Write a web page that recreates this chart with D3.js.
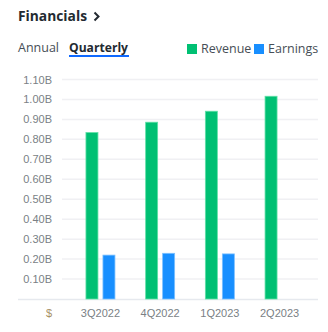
<!DOCTYPE html>
<html><head><meta charset="utf-8">
<script src="https://cdn.jsdelivr.net/npm/d3@7/dist/d3.min.js"></script>
<style>
html,body{margin:0;padding:0;background:#fff;}
svg{display:block;}
</style></head>
<body>
<svg id="chart" width="328" height="332"></svg>
<script>
const categories = ["3Q2022", "4Q2022", "1Q2023", "2Q2023"];
const revenue = [0.834, 0.886, 0.941, 1.016];
const earnings = [0.220, 0.229, 0.226, null];
const yTicks = [0.1, 0.2, 0.3, 0.4, 0.5, 0.6, 0.7, 0.8, 0.9, 1.0, 1.1];
const seriesNames = ["Revenue", "Earnings"];
const seriesColors = ["#00c073", "#188fff"];
const seriesStroke = ["#5fe0a6", "#7cc0ff"];

const svg = d3.select("#chart");
const font = "'Open Sans', sans-serif";

// Header
svg.append("text").attr("x", 18).attr("y", 21)
  .attr("font-family", font).attr("font-weight", 700).attr("font-size", 14.5)
  .attr("textLength", 69).attr("lengthAdjust", "spacingAndGlyphs")
  .attr("fill", "#232a31").text("Financials");
svg.append("path").attr("d", "M94.5,12.5 L98.5,16.5 L94.5,20.5")
  .attr("fill", "none").attr("stroke", "#232a31").attr("stroke-width", 2);

svg.append("text").attr("x", 18).attr("y", 52)
  .attr("font-family", font).attr("font-size", 12.5).attr("fill", "#464e56").text("Annual");
svg.append("text").attr("x", 69).attr("y", 52)
  .attr("font-family", font).attr("font-weight", 700).attr("font-size", 12.5)
  .attr("textLength", 59).attr("lengthAdjust", "spacingAndGlyphs")
  .attr("fill", "#232a31").text("Quarterly");
svg.append("rect").attr("x", 69).attr("y", 55).attr("width", 60).attr("height", 2).attr("fill", "#0f69ff");

// Legend
const legendX = [187, 254];
seriesNames.forEach((n, i) => {
  svg.append("rect").attr("x", legendX[i]).attr("y", 44).attr("width", 10).attr("height", 10).attr("fill", seriesColors[i]);
  svg.append("text").attr("x", legendX[i] + 14).attr("y", 53)
    .attr("font-family", font).attr("font-size", 12.5).attr("fill", "#464e56").text(n);
});

// Scales
const y = d3.scaleLinear().domain([0, 1.1]).range([299, 79.5]);
const x = d3.scaleBand().domain(categories).range([70.6, 309.4]).padding(0);

// Gridlines
svg.append("g").selectAll("line").data(yTicks).join("line")
  .attr("x1", 62).attr("x2", 318)
  .attr("y1", d => y(d)).attr("y2", d => y(d))
  .attr("stroke", "#f0f0f3").attr("stroke-width", 1.5);

// Y axis labels
const yAxis = d3.axisLeft(y).tickValues(yTicks).tickSize(0).tickPadding(0)
  .tickFormat(d => d3.format(".2f")(d) + "B");
const ya = svg.append("g").attr("transform", "translate(52,0)").call(yAxis);
ya.select(".domain").remove();
ya.selectAll("text").attr("font-family", "'Liberation Sans', Arial, sans-serif").attr("font-size", 11).attr("fill", "#7a7f85");

// Baseline
svg.append("line").attr("x1", 18).attr("x2", 318).attr("y1", y(0) + 0.5).attr("y2", y(0) + 0.5)
  .attr("stroke", "#e6e9ee").attr("stroke-width", 1.5);

// Bars
const bw = 12, gap = 5;
const center = d => x(d) + x.bandwidth() / 2;
svg.append("g").selectAll("rect").data(categories.map((c, i) => ({c, v: revenue[i]}))).join("rect")
  .attr("x", d => center(d.c) - gap / 2 - bw)
  .attr("y", d => y(d.v)).attr("width", bw).attr("height", d => y(0) - y(d.v))
  .attr("fill", seriesColors[0]).attr("stroke", seriesStroke[0]).attr("stroke-width", 0.8);
svg.append("g").selectAll("rect").data(categories.map((c, i) => ({c, v: earnings[i]})).filter(d => d.v != null)).join("rect")
  .attr("x", d => center(d.c) + gap / 2)
  .attr("y", d => y(d.v)).attr("width", bw).attr("height", d => y(0) - y(d.v))
  .attr("fill", seriesColors[1]).attr("stroke", seriesStroke[1]).attr("stroke-width", 0.8);

// X axis labels
const xAxis = d3.axisBottom(x).tickSize(0).tickPadding(0);
const xa = svg.append("g").attr("transform", "translate(0,309)").call(xAxis);
xa.select(".domain").remove();
xa.selectAll("text").attr("dy", "0.71em").attr("font-family", "'Liberation Sans', Arial, sans-serif").attr("font-size", 11).attr("fill", "#7a7f85");

svg.append("text").attr("x", 49).attr("y", 317).attr("text-anchor", "middle")
  .attr("font-family", "'Liberation Sans', Arial, sans-serif").attr("font-size", 11).attr("fill", "#a89066").text("$");
</script>
</body></html>
